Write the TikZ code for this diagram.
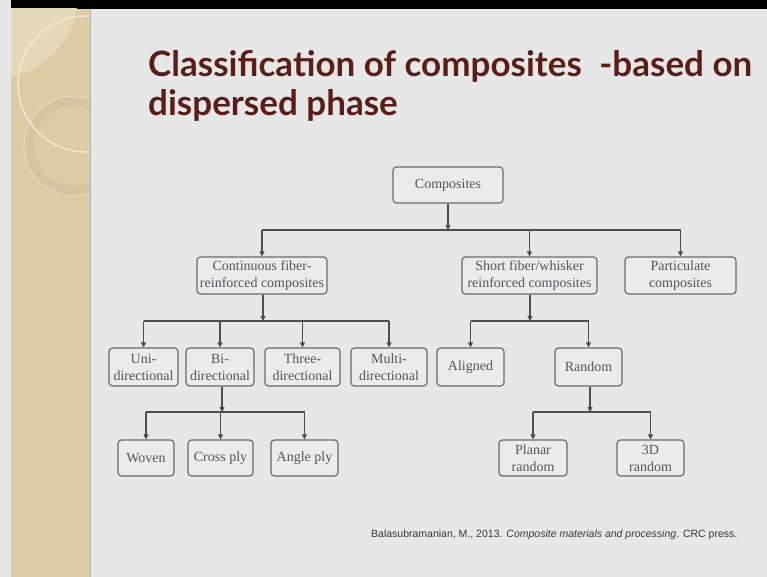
\documentclass[tikz,border=0pt]{standalone}
\usepackage{fontspec}
\setmainfont{Liberation Serif}
\newfontfamily\titlefont{Lato}
\newfontfamily\citefont{Liberation Sans}
\usetikzlibrary{arrows.meta}
\definecolor{slidebg}{HTML}{E7E7E7}
\definecolor{beige}{HTML}{DCCBA3}
\definecolor{beigelight}{HTML}{E5D8BA}
\definecolor{ringc}{HTML}{D4C49F}
\definecolor{arcc}{HTML}{F1EADA}
\definecolor{titlec}{HTML}{5A1E16}
\definecolor{boxline}{HTML}{6A6A6A}
\definecolor{boxfill}{HTML}{EBEBEB}
\definecolor{boxtext}{HTML}{55545F}
\definecolor{linec}{HTML}{4E4E4E}
\tikzset{
  box/.style={draw=boxline, line width=1.2pt, rounded corners=3.5pt, fill=boxfill,
    text=boxtext, font=\fontsize{14}{17}\selectfont, align=center, inner sep=0pt,
    minimum height=37pt},
  conn/.style={draw=linec, line width=1.1pt},
  arr/.style={conn, -{Triangle[length=5pt,width=5pt]}},
  titletext/.style={anchor=base west, inner sep=0pt, text=titlec,
    font=\titlefont\bfseries\fontsize{35}{40}\selectfont},
}
\begin{document}
\begin{tikzpicture}[x=1pt,y=-1pt]
\useasboundingbox (0,0) rectangle (767,577);
% slide background
\fill[slidebg] (0,0) rectangle (767,577);
\fill[black] (11,0) rectangle (767,9);
% beige strip with decoration
\begin{scope}
  \clip (11,9) rectangle (90,577);
  \fill[beige] (11,9) rectangle (90,577);
  \fill[beigelight] (-5,-5) circle[radius=83];
  \draw[ringc, line width=10pt] (74,146) circle[radius=45];
  \draw[arcc!70!beige, line width=0.8pt] (74,146) circle[radius=50];
  \draw[arcc, line width=1.4pt] (86,84) circle[radius=68];
\end{scope}
\draw[color=black!30, line width=1pt] (90.5,9) -- (90.5,577);
% title
\node[titletext] (t1) at (148,77) {Classification of composites\hspace{0.5em}-based on};
\node[titletext] (t2) at (148,116) {dispersed phase};
% boxes
\node[box, minimum width=110pt, minimum height=36pt] (comp) at (448,185) {Composites};
\node[box, minimum width=130pt] (cont) at (262,275.5) {Continuous fiber-\\reinforced composites};
\node[box, minimum width=135pt] (short) at (529.5,275.5) {Short fiber/whisker\\reinforced composites};
\node[box, minimum width=111pt] (part) at (680.5,275.5) {Particulate\\composites};
\node[box, minimum width=69pt, minimum height=38pt] (uni) at (143.5,367) {Uni-\\directional};
\node[box, minimum width=68pt, minimum height=38pt] (bi) at (220,367) {Bi-\\directional};
\node[box, minimum width=75pt, minimum height=38pt] (three) at (302.5,367) {Three-\\directional};
\node[box, minimum width=76pt, minimum height=38pt] (multi) at (389,367) {Multi-\\directional};
\node[box, minimum width=56pt, minimum height=36pt] (woven) at (146,458) {Woven};
\node[box, minimum width=65pt, minimum height=36pt] (cross) at (220.5,458) {Cross ply};
\node[box, minimum width=67pt, minimum height=36pt] (angle) at (304.5,458) {Angle ply};
\node[box, minimum width=67pt, minimum height=38pt] (aligned) at (470.5,367) {Aligned};
\node[box, minimum width=67pt, minimum height=38pt] (random) at (588.5,367) {Random};
\node[box, minimum width=68pt, minimum height=36pt] (planar) at (533,458) {Planar\\random};
\node[box, minimum width=67pt, minimum height=36pt] (threed) at (650.5,458) {3D\\random};
% junction points
\coordinate (j1) at (448,230);
\coordinate (j2) at (263,321);
\coordinate (j3) at (222,412);
\coordinate (j4) at (530,321);
\coordinate (j5) at (590,412);
% connectors
\draw[arr] (comp) -- (j1);
\draw[conn] (j1 -| cont) -- (j1 -| part);
\foreach \n in {cont,short,part} \draw[arr] (j1 -| \n) -- (\n);
\draw[arr] (cont.south -| j2) -- (j2);
\draw[conn] (j2 -| uni) -- (j2 -| multi);
\foreach \n in {uni,bi,three,multi} \draw[arr] (j2 -| \n) -- (\n);
\draw[arr] (bi.south -| j3) -- (j3);
\draw[conn] (j3 -| woven) -- (j3 -| angle);
\foreach \n in {woven,cross,angle} \draw[arr] (j3 -| \n) -- (\n);
\draw[arr] (short.south -| j4) -- (j4);
\draw[conn] (j4 -| aligned) -- (j4 -| random);
\foreach \n in {aligned,random} \draw[arr] (j4 -| \n) -- (\n);
\draw[arr] (random.south -| j5) -- (j5);
\draw[conn] (j5 -| planar) -- (j5 -| threed);
\foreach \n in {planar,threed} \draw[arr] (j5 -| \n) -- (\n);
% citation
\node[anchor=west, inner sep=0pt, text=black!78, font=\citefont\fontsize{10.5}{12}\selectfont]
  (cite) at (371,535) {Balasubramanian, M., 2013. \textit{Composite materials and processing}. CRC press.};
\end{tikzpicture}
\end{document}
